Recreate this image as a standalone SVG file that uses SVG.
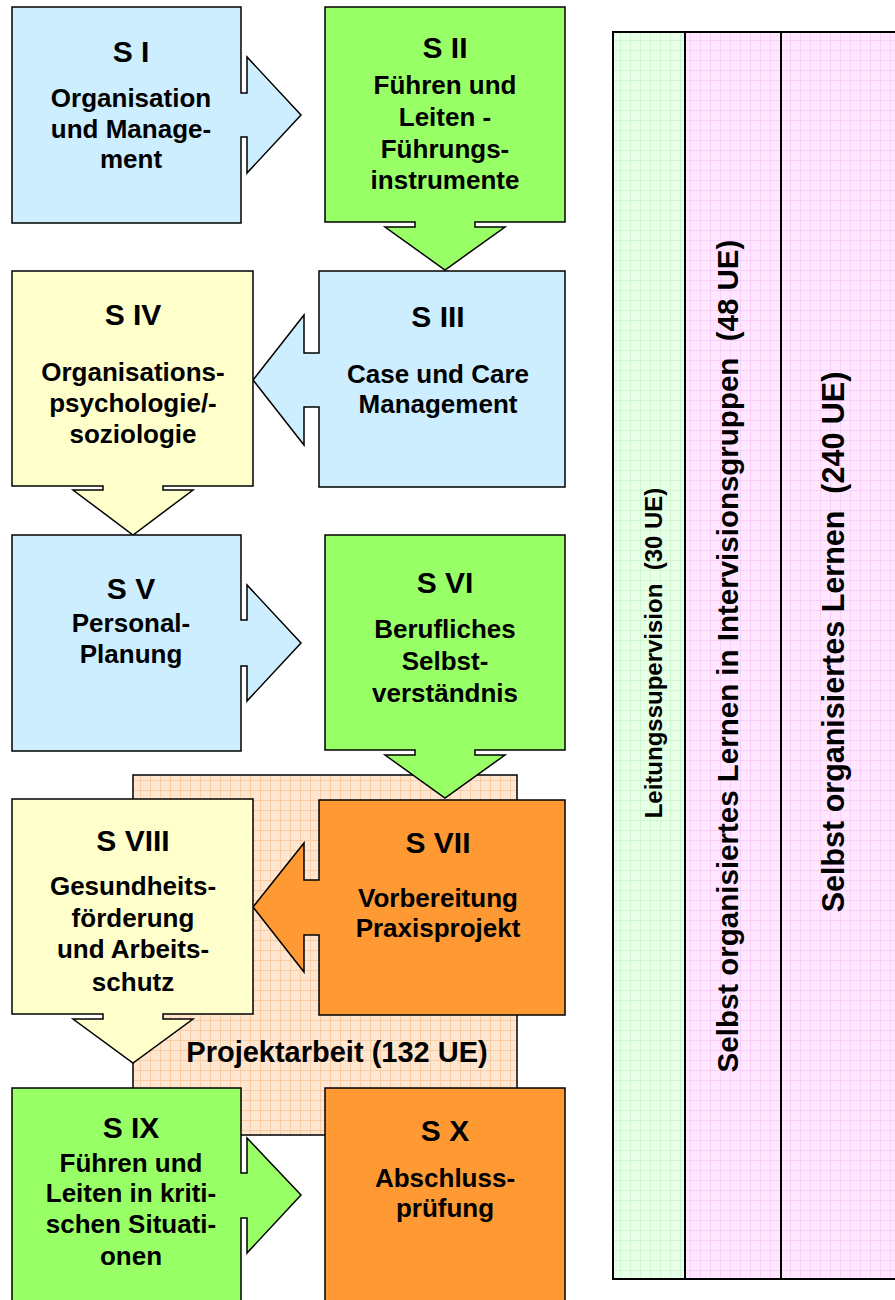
<svg xmlns="http://www.w3.org/2000/svg" width="895" height="1300" viewBox="0 0 895 1300">
<defs>
<pattern id="gridG" width="10" height="10" patternUnits="userSpaceOnUse"><rect width="10" height="10" fill="#e8ffe8"/><path d="M0 0.5H10M0.5 0V10" stroke="#d0f8d0" stroke-width="1" fill="none"/></pattern>
<pattern id="gridP" width="10" height="10" patternUnits="userSpaceOnUse"><rect width="10" height="10" fill="#ffe8ff"/><path d="M0 0.5H10M0.5 0V10" stroke="#fad0fa" stroke-width="1" fill="none"/></pattern>
<pattern id="gridO" width="10" height="10" patternUnits="userSpaceOnUse"><rect width="10" height="10" fill="#fee6d0"/><path d="M0 0.5H10M0.5 0V10" stroke="#f9cca4" stroke-width="1" fill="none"/></pattern>
</defs>
<style>
.box{stroke:#000;stroke-width:1.5;stroke-linejoin:miter}
.blue{fill:#cceeff}.green{fill:#99ff66}.yellow{fill:#ffffcc}.orange{fill:#ff9933}
text{font-family:"Liberation Sans",Arial,Helvetica,sans-serif;font-weight:bold;fill:#000;text-anchor:middle}
.t{font-size:30px}
.b{font-size:26px}
.p{font-size:29px}
.col{stroke:#000;stroke-width:2}
</style>
<g id="columns">
<rect x="613" y="32" width="72" height="1247" fill="url(#gridG)" class="col"/>
<rect x="685" y="32" width="96" height="1247" fill="url(#gridP)" class="col"/>
<rect x="781" y="32" width="130" height="1247" fill="url(#gridP)" class="col"/>
<text transform="translate(662,653) rotate(-90)" style="font-size:24px" xml:space="preserve">Leitungssupervision  (30 UE)</text>
<text transform="translate(738,656) rotate(-90)" style="font-size:29.5px" xml:space="preserve">Selbst organisiertes Lernen in Intervisionsgruppen  (48 UE)</text>
<text transform="translate(844,642) rotate(-90)" style="font-size:30.5px" xml:space="preserve">Selbst organisiertes Lernen  (240 UE)</text>
</g>
<g id="projektarbeit">
<rect x="133" y="775" width="384" height="360" fill="url(#gridO)" stroke="#000" stroke-width="1.5"/>
<text class="p" x="337" y="1062">Projektarbeit (132 UE)</text>
</g>
<g id="connectors"></g>
<g id="s1">
<polygon class="box blue" points="12,7 241,7 241,93 247,93 247,57 301,115 247,173 247,137 241,137 241,223 12,223"/>
<text class="t" x="131" y="62">S I</text>
<text class="b" x="131" y="107">Organisation</text>
<text class="b" x="131" y="138">und Manage-</text>
<text class="b" x="131" y="168">ment</text>
</g>
<g id="s2">
<polygon class="box green" points="325,7 565,7 565,222 475,222 475,227 505,227 445,270 385,227 415,227 415,222 325,222"/>
<text class="t" x="445" y="58">S II</text>
<text class="b" x="445" y="94">Führen und</text>
<text class="b" x="445" y="126">Leiten -</text>
<text class="b" x="445" y="158">Führungs-</text>
<text class="b" x="445" y="189">instrumente</text>
</g>
<g id="s3">
<polygon class="box blue" points="319,271 565,271 565,487 319,487 319,407 304,407 304,445 253,380 304,315 304,353 319,353"/>
<text class="t" x="438" y="327">S III</text>
<text class="b" x="438" y="383">Case und Care</text>
<text class="b" x="438" y="413">Management</text>
</g>
<g id="s4">
<polygon class="box yellow" points="12,271 253,271 253,486 163,486 163,490 193,490 133,535 73,490 103,490 103,486 12,486"/>
<text class="t" x="133" y="325">S IV</text>
<text class="b" x="133" y="381">Organisations-</text>
<text class="b" x="133" y="412">psychologie/-</text>
<text class="b" x="133" y="443">soziologie</text>
</g>
<g id="s5">
<polygon class="box blue" points="12,535 241,535 241,620 247,620 247,585 301,643 247,701 247,666 241,666 241,751 12,751"/>
<text class="t" x="131" y="599">S V</text>
<text class="b" x="131" y="632">Personal-</text>
<text class="b" x="131" y="663">Planung</text>
</g>
<g id="s6">
<polygon class="box green" points="325,535 565,535 565,750 475,750 475,755 505,755 445,798 385,755 415,755 415,750 325,750"/>
<text class="t" x="445" y="593">S VI</text>
<text class="b" x="445" y="638">Berufliches</text>
<text class="b" x="445" y="670">Selbst-</text>
<text class="b" x="445" y="702">verständnis</text>
</g>
<g id="s7">
<polygon class="box orange" points="319,800 565,800 565,1015 319,1015 319,935 304,935 304,972 253,907 304,843 304,880 319,880"/>
<text class="t" x="438" y="853">S VII</text>
<text class="b" x="438" y="907">Vorbereitung</text>
<text class="b" x="438" y="937">Praxisprojekt</text>
</g>
<g id="s8">
<polygon class="box yellow" points="12,799 253,799 253,1014 163,1014 163,1019 193,1019 133,1063 73,1019 103,1019 103,1014 12,1014"/>
<text class="t" x="133" y="851">S VIII</text>
<text class="b" x="133" y="895">Gesundheits-</text>
<text class="b" x="133" y="927">förderung</text>
<text class="b" x="133" y="958">und Arbeits-</text>
<text class="b" x="133" y="991">schutz</text>
</g>
<g id="s9">
<polygon class="box green" points="12,1088 241,1088 241,1173 247,1173 247,1138 301,1195 247,1253 247,1218 241,1218 241,1320 12,1320"/>
<text class="t" x="131" y="1138">S IX</text>
<text class="b" x="131" y="1172">Führen und</text>
<text class="b" x="131" y="1202">Leiten in kriti-</text>
<text class="b" x="131" y="1233">schen Situati-</text>
<text class="b" x="131" y="1265">onen</text>
</g>
<g id="s10">
<rect class="box orange" x="325" y="1088" width="240" height="232"/>
<text class="t" x="445" y="1141">S X</text>
<text class="b" x="445" y="1187">Abschluss-</text>
<text class="b" x="445" y="1217">prüfung</text>
</g>
</svg>
